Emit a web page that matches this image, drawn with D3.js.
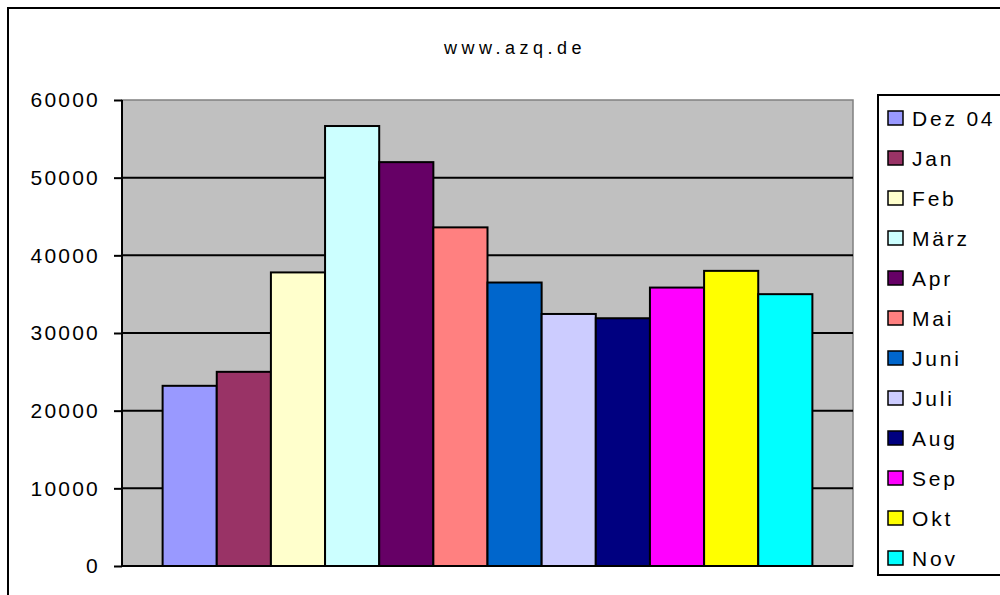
<!DOCTYPE html>
<html>
<head>
<meta charset="utf-8">
<script src="https://cdn.jsdelivr.net/npm/d3@7"></script>
<style>
  body { margin: 0; background: #fff; }
  text { font-family: "Liberation Sans", Arial, sans-serif; }
</style>
</head>
<body>
<div id="chart"></div>
<script>
const months = ["Dez 04", "Jan", "Feb", "März", "Apr", "Mai", "Juni", "Juli", "Aug", "Sep", "Okt", "Nov"];
const values = [23200, 25000, 37800, 56650, 52000, 43600, 36500, 32450, 31900, 35850, 38000, 35000];
const colors = ["#9999ff", "#993366", "#ffffcc", "#ccffff", "#660066", "#ff8080",
  "#0066cc", "#ccccff", "#000080", "#ff00ff", "#ffff00", "#00ffff"];
const yTicks = [0, 10000, 20000, 30000, 40000, 50000, 60000];

const width = 1000, height = 595;
const plot = { left: 122, right: 853, top: 100, bottom: 566 };

const svg = d3.select("#chart").append("svg")
  .attr("width", width)
  .attr("height", height);

// outer chart border
svg.append("rect")
  .attr("x", 8).attr("y", 8)
  .attr("width", 1010).attr("height", 610)
  .attr("fill", "#fff")
  .attr("stroke", "#000")
  .attr("stroke-width", 2);

svg.append("text")
  .attr("x", 515).attr("y", 54)
  .attr("text-anchor", "middle")
  .style("font-size", "18px")
  .style("letter-spacing", "4.5px")
  .text("www.azq.de");

const x = d3.scaleBand()
  .domain(months)
  .range([plot.left, plot.right])
  .paddingInner(0)
  .paddingOuter(0.75);

const y = d3.scaleLinear()
  .domain([0, 60000])
  .range([plot.bottom, plot.top]);

// plot area
svg.append("rect")
  .attr("x", plot.left).attr("y", plot.top)
  .attr("width", plot.right - plot.left)
  .attr("height", plot.bottom - plot.top)
  .attr("fill", "#c0c0c0")
  .attr("stroke", "#808080")
  .attr("stroke-width", 1.5);

// gridlines
svg.append("g")
  .selectAll("line")
  .data(yTicks.filter(d => d > 0 && d < 60000))
  .join("line")
  .attr("x1", plot.left).attr("x2", plot.right)
  .attr("y1", d => y(d)).attr("y2", d => y(d))
  .attr("stroke", "#000")
  .attr("stroke-width", 2);

// bars
svg.append("g")
  .selectAll("rect")
  .data(months)
  .join("rect")
  .attr("x", d => x(d))
  .attr("y", (d, i) => y(values[i]))
  .attr("width", x.bandwidth())
  .attr("height", (d, i) => y(0) - y(values[i]))
  .attr("fill", (d, i) => colors[i])
  .attr("stroke", "#000")
  .attr("stroke-width", 2);

// y axis
const yAxis = svg.append("g")
  .attr("transform", `translate(${plot.left},0)`)
  .call(d3.axisLeft(y).tickValues(yTicks).tickSize(8).tickPadding(14).tickFormat(d3.format("d")));
yAxis.select(".domain").attr("stroke", "#000").attr("stroke-width", 2).attr("d", `M0,${plot.top}V${plot.bottom}`);
yAxis.selectAll(".tick line").attr("stroke", "#000").attr("stroke-width", 2);
yAxis.selectAll(".tick text")
  .style("font-family", "'Liberation Sans', Arial, sans-serif")
  .style("font-size", "21px")
  .style("letter-spacing", "2.2px")
  .attr("fill", "#000");

// x axis baseline
svg.append("line")
  .attr("x1", plot.left).attr("x2", plot.right)
  .attr("y1", y(0)).attr("y2", y(0))
  .attr("stroke", "#000")
  .attr("stroke-width", 2);

// legend
const legend = svg.append("g");
legend.append("rect")
  .attr("x", 878).attr("y", 95)
  .attr("width", 140).attr("height", 480)
  .attr("fill", "#fff")
  .attr("stroke", "#000")
  .attr("stroke-width", 2);

const item = legend.selectAll("g.item")
  .data(months)
  .join("g")
  .attr("class", "item")
  .attr("transform", (d, i) => `translate(0,${118 + i * 40})`);

item.append("rect")
  .attr("x", 888).attr("y", -7)
  .attr("width", 15).attr("height", 14)
  .attr("fill", (d, i) => colors[i])
  .attr("stroke", "#000")
  .attr("stroke-width", 1.5);

item.append("text")
  .attr("x", 912).attr("y", 8)
  .style("font-size", "21px")
  .style("letter-spacing", "2.8px")
  .text(d => d);
</script>
</body>
</html>
